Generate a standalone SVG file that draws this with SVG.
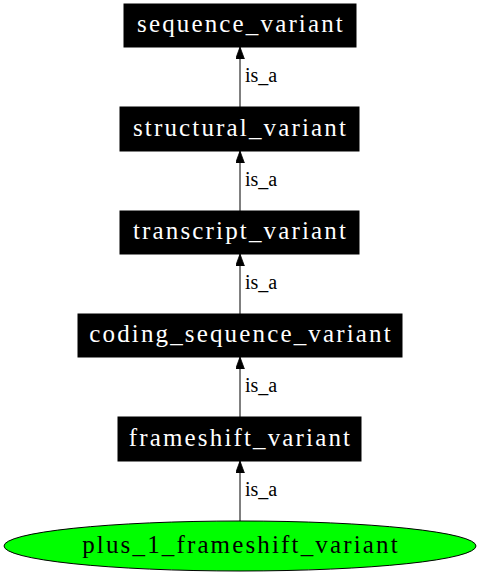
<svg xmlns="http://www.w3.org/2000/svg" width="480" height="576" viewBox="0 0 480 576">
<defs>
<style>
.box{fill:#000;stroke:#000;stroke-width:1}
.nt{font-family:"Liberation Serif","Times New Roman",serif;font-size:25px;letter-spacing:2.15px;fill:#fff;text-anchor:middle}
.et{font-family:"Liberation Serif","Times New Roman",serif;font-size:20px;fill:#000}
.edge{stroke:#000;stroke-width:1;fill:none}
</style>
<marker id="ah" markerUnits="userSpaceOnUse" markerWidth="14" markerHeight="12" refX="12" refY="4.4" orient="auto">
<path d="M0,0 L12,4.4 L0,8.8 Z" fill="#000" stroke="#000" stroke-width="0.8"/>
</marker>
</defs>
<rect width="480" height="576" fill="#fff"/>
<g id="edges">
<line class="edge" x1="240" y1="107" x2="240" y2="47" marker-end="url(#ah)"/>
<text class="et" x="245" y="82">is_a</text>
<line class="edge" x1="240" y1="211" x2="240" y2="151" marker-end="url(#ah)"/>
<text class="et" x="245" y="186">is_a</text>
<line class="edge" x1="240" y1="314" x2="240" y2="254" marker-end="url(#ah)"/>
<text class="et" x="245" y="289">is_a</text>
<line class="edge" x1="240" y1="417" x2="240" y2="357" marker-end="url(#ah)"/>
<text class="et" x="245" y="392">is_a</text>
<line class="edge" x1="240" y1="521" x2="240" y2="461" marker-end="url(#ah)"/>
<text class="et" x="245" y="496">is_a</text>
</g>
<g id="sequence_variant">
<rect class="box" x="124" y="4" width="232" height="43"/>
<text class="nt" x="241" y="32">sequence_variant</text>
</g>
<g id="structural_variant">
<rect class="box" x="120" y="107" width="239" height="44"/>
<text class="nt" x="240.5" y="135.5">structural_variant</text>
</g>
<g id="transcript_variant">
<rect class="box" x="120" y="211" width="239" height="43"/>
<text class="nt" x="240.5" y="239">transcript_variant</text>
</g>
<g id="coding_sequence_variant">
<rect class="box" x="78" y="314" width="324" height="43"/>
<text class="nt" x="241" y="342">coding_sequence_variant</text>
</g>
<g id="frameshift_variant">
<rect class="box" x="118" y="417" width="243" height="44"/>
<text class="nt" x="240.5" y="446">frameshift_variant</text>
</g>
<g id="plus_1_frameshift_variant">
<ellipse cx="240" cy="546" rx="236" ry="25" fill="#00ff00" stroke="#000" stroke-width="1"/>
<text class="nt" x="241" y="553" style="fill:#000">plus_1_frameshift_variant</text>
</g>
</svg>
